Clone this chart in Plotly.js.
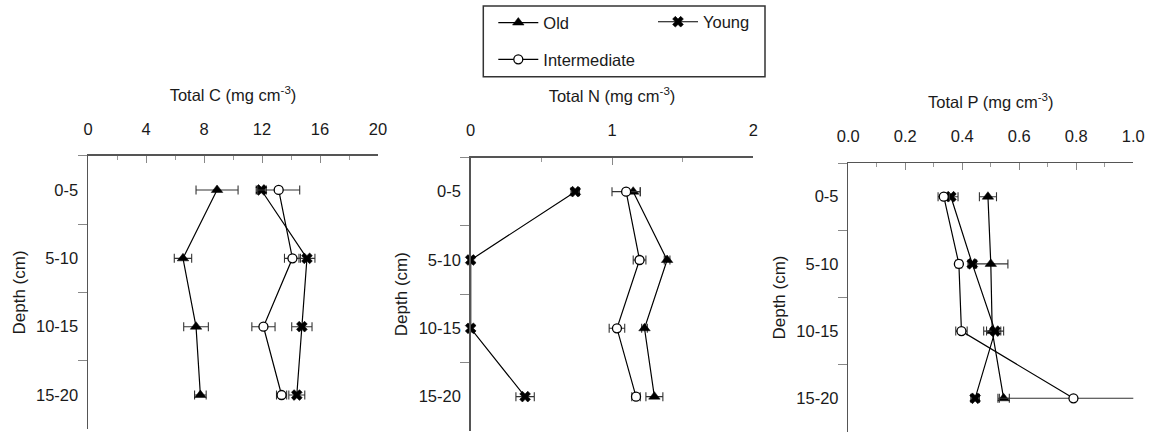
<!DOCTYPE html>
<html>
<head>
<meta charset="utf-8">
<script src="https://cdn.plot.ly/plotly-3.0.1.min.js"></script>
<style>
html, body { margin: 0; padding: 0; background: #fff; }
#chart { width: 1150px; height: 433px; }
</style>
</head>
<body>
<div id="chart"></div>
<script>
// ---- data ----
const depths = ['0-5', '5-10', '10-15', '15-20'];

const cOld = [8.9, 6.55, 7.45, 7.75];
const cOldErr = [1.45, 0.6, 0.85, 0.4];
const cYoung = [11.95, 15.1, 14.75, 14.4];
const cYoungErr = [0.35, 0.55, 0.7, 0.55];
const cInter = [13.15, 14.1, 12.1, 13.35];
const cInterErr = [1.45, 0.55, 0.8, 0.35];

const nOld = [1.15, 1.39, 1.23, 1.30];
const nOldErr = [0.05, 0.02, 0.02, 0.06];
const nYoung = [0.74, 0.0, 0.0, 0.385];
const nYoungErr = [0.03, 0.01, 0.01, 0.065];
const nInter = [1.10, 1.195, 1.035, 1.17];
const nInterErr = [0.1, 0.045, 0.055, 0.03];

const pOld = [0.49, 0.50, 0.505, 0.545];
const pOldErr = [0.03, 0.06, 0.03, 0.02];
const pYoung = [0.36, 0.435, 0.515, 0.445];
const pYoungErr = [0.025, 0.015, 0.03, 0.015];
const pInter = [0.335, 0.388, 0.397, 0.79];
const pInterErr = [0.02, 0.01, 0.02, 0.26];

const seriesNames = ['Old', 'Young', 'Intermediate'];
const xTitles = ['Total C (mg cm<sup>-3</sup>)', 'Total N (mg cm<sup>-3</sup>)', 'Total P (mg cm<sup>-3</sup>)'];
const yTitle = 'Depth (cm)';
const cTicks = [0, 4, 8, 12, 16, 20];
const nTicks = [0, 1, 2];
const pTicks = [0, 0.2, 0.4, 0.6, 0.8, 1.0];

// ---- styling ----
const FONT = 'Liberation Sans, Arial, sans-serif';
const FS = 16.5;
const TXT = '#1a1a1a';
const AX = '#555';

const styles = {
  Old: { symbol: 'triangle-up', color: '#000', size: 10, line: { color: '#000', width: 0.5 } },
  Young: { symbol: 'x', color: '#000', size: 9.5, line: { color: '#000', width: 0.6 } },
  Intermediate: { symbol: 'circle', color: '#fff', size: 9, line: { color: '#000', width: 1.3 } }
};
const legendOf = { Old: 'legend', Young: 'legend2', Intermediate: 'legend3' };

function tr(name, x, err, ax, show) {
  return {
    type: 'scatter', mode: 'lines+markers', name: name,
    x: x, y: depths,
    xaxis: 'x' + (ax === 1 ? '' : ax), yaxis: 'y' + (ax === 1 ? '' : ax),
    line: { color: '#000', width: 1.2 },
    marker: styles[name],
    error_x: { type: 'data', array: err, visible: true, color: '#333', thickness: 1.1, width: 4.5 },
    cliponaxis: false,
    showlegend: show, legend: legendOf[name], legendgroup: name
  };
}

const data = [
  tr('Old', cOld, cOldErr, 1, true),
  tr('Young', cYoung, cYoungErr, 1, true),
  tr('Intermediate', cInter, cInterErr, 1, true),
  tr('Old', nOld, nOldErr, 2, false),
  tr('Young', nYoung, nYoungErr, 2, false),
  tr('Intermediate', nInter, nInterErr, 2, false),
  tr('Old', pOld, pOldErr, 3, false),
  tr('Young', pYoung, pYoungErr, 3, false),
  tr('Intermediate', pInter, pInterErr, 3, false)
];

const W = 1150, H = 433;
function px(a) { return a / W; }
function py(a) { return 1 - a / H; }

function xAxis(dom, range, ticks, dminor, title, fmt) {
  return {
    domain: dom, range: range, side: 'top',
    showline: true, linecolor: AX, linewidth: 1.5, showgrid: false, zeroline: false,
    ticks: 'inside', ticklen: 7, tickwidth: 1, tickcolor: '#888',
    tickmode: 'array', tickvals: ticks, tickformat: fmt,
    minor: { dtick: dminor, ticks: 'inside', ticklen: 4, tickcolor: '#999', tickwidth: 1, showgrid: false },
    tickfont: { family: FONT, size: FS, color: TXT },
    ticklabelstandoff: 13,
    title: { text: title, font: { family: FONT, size: FS, color: TXT }, standoff: 14 },
    fixedrange: true
  };
}
function yAxis(dom, xa) {
  return {
    domain: dom, anchor: xa, type: 'category', categoryorder: 'array', categoryarray: depths,
    range: [3.5, -0.5], tickson: 'boundaries',
    showline: true, linecolor: AX, linewidth: 1.5, showgrid: false, zeroline: false,
    ticks: 'outside', ticklen: 9, tickwidth: 1, tickcolor: '#888',
    tickfont: { family: FONT, size: FS, color: TXT },
    ticklabelstandoff: 5,
    title: { text: yTitle, font: { family: FONT, size: FS + 0.5, color: TXT }, standoff: 6 },
    fixedrange: true
  };
}

const xa1 = xAxis([px(88), px(378)], [0, 20], cTicks, 2, xTitles[0]);
const xa2 = xAxis([px(470.7), px(753.3)], [0, 2], nTicks, 0.5, xTitles[1]);
const xa3 = xAxis([px(848.3), px(1133.3)], [0, 1], pTicks, 0.1, xTitles[2], '.1f');
xa1.anchor = 'y'; xa2.anchor = 'y2'; xa3.anchor = 'y3';

const legBase = {
  orientation: 'v', bgcolor: 'rgba(0,0,0,0)', borderwidth: 0,
  font: { family: FONT, size: FS, color: TXT },
  itemwidth: 40, xanchor: 'left', yanchor: 'top', itemclick: false, itemdoubleclick: false
};

const layout = {
  width: W, height: H,
  margin: { l: 0, r: 0, t: 0, b: 0, pad: 0 },
  paper_bgcolor: '#fff', plot_bgcolor: 'rgba(0,0,0,0)',
  font: { family: FONT, size: FS, color: TXT },
  showlegend: true,
  xaxis: xa1, xaxis2: xa2, xaxis3: xa3,
  yaxis: yAxis([(H - 429.2) / H, (H - 155.8) / H], 'x'),
  yaxis2: yAxis([(H - 430.8) / H, (H - 157.5) / H], 'x2'),
  yaxis3: yAxis([(H - 431.9) / H, (H - 163.1) / H], 'x3'),
  legend: Object.assign({}, legBase, { x: px(493.3), y: py(5.3) }),
  legend2: Object.assign({}, legBase, { x: px(653), y: py(4.5) }),
  legend3: Object.assign({}, legBase, { x: px(493.3), y: py(42.1) }),
  shapes: [{
    type: 'rect', xref: 'paper', yref: 'paper',
    x0: px(483.3), x1: px(765), y0: py(76.7), y1: py(6),
    line: { color: '#333', width: 1.5 }, fillcolor: 'rgba(0,0,0,0)'
  }]
};

Plotly.newPlot('chart', data, layout, { displayModeBar: false, staticPlot: true });
</script>
</body>
</html>
